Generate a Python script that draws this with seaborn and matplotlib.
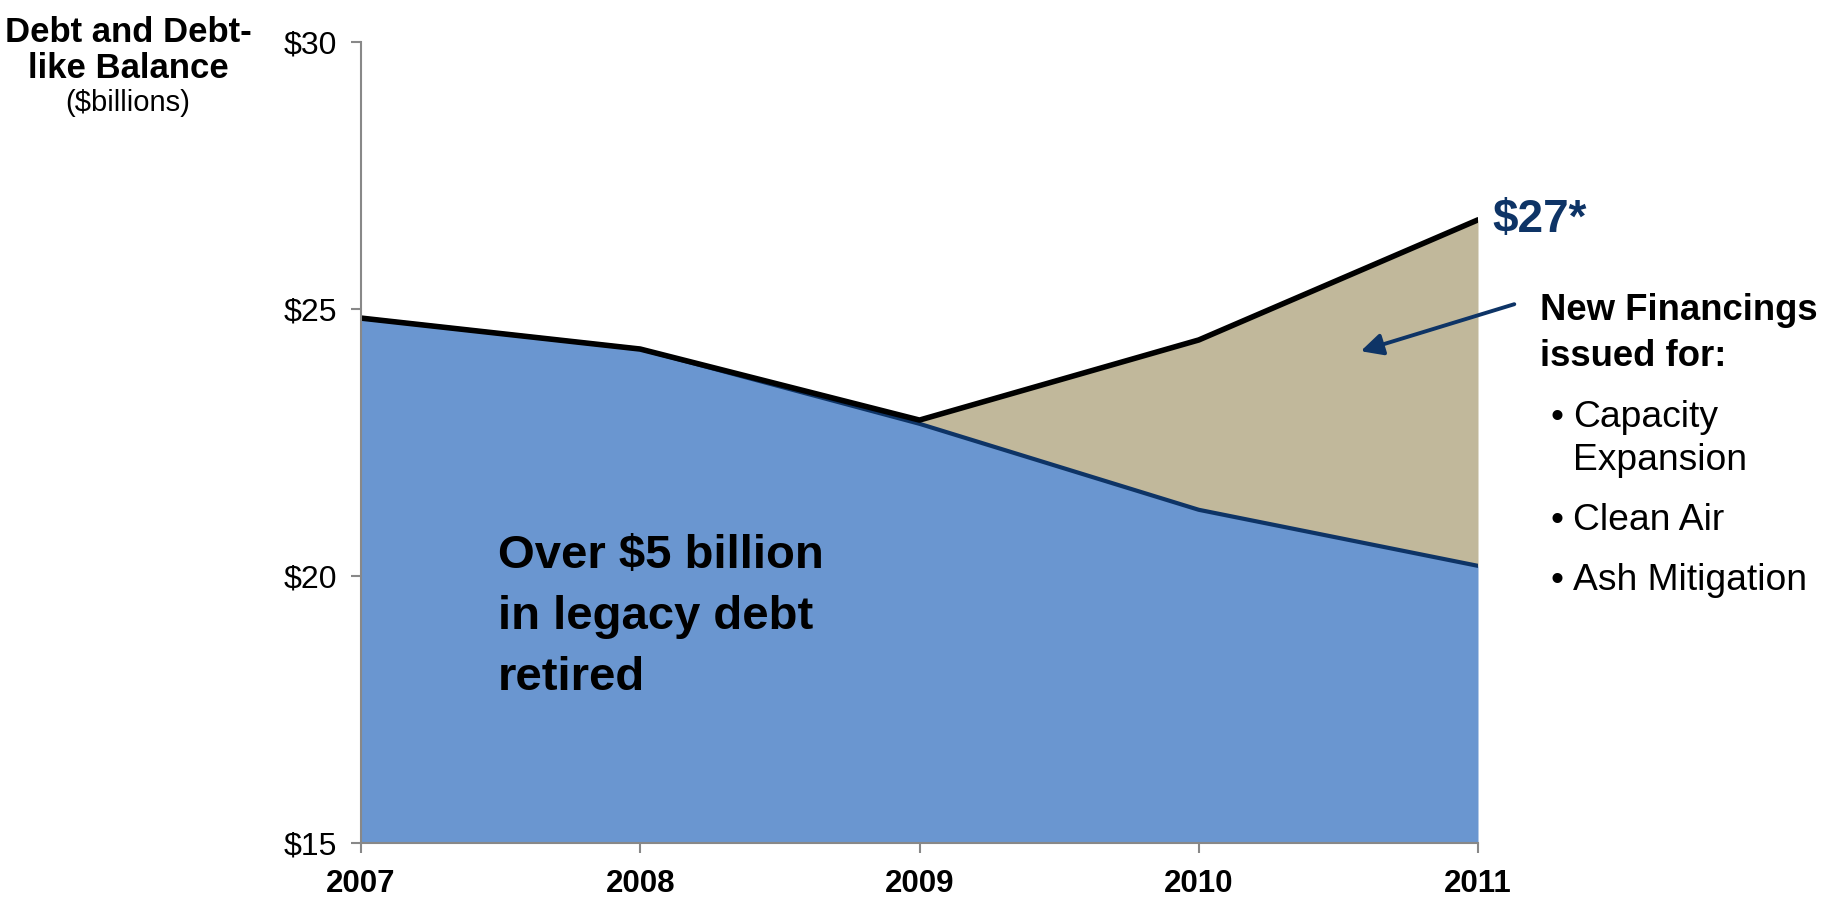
import matplotlib
matplotlib.use("Agg")
import matplotlib.pyplot as plt
import seaborn as sns
import pandas as pd

# Debt balances by year ($ billions)
years = [2007, 2008, 2009, 2010, 2011]
legacy_debt = [24.83, 24.25, 22.85, 21.24, 20.19]
total_debt = [24.83, 24.25, 22.92, 24.42, 26.67]
y_ticks = [15, 20, 25, 30]
y_tick_labels = ["$15", "$20", "$25", "$30"]
purposes = ["Capacity", "Expansion", "Clean Air", "Ash Mitigation"]

df = pd.DataFrame({"year": years, "legacy": legacy_debt, "total": total_debt})

sns.set_theme(style="white")
plt.rcParams["font.family"] = ["Liberation Sans", "DejaVu Sans"]
plt.rcParams["text.color"] = "black"

W, H, DPI = 1826, 897, 100
fig = plt.figure(figsize=(W / DPI, H / DPI), dpi=DPI)
ax = fig.add_axes([361 / W, 1 - 843 / H, (1478 - 361) / W, (843 - 42) / H])

BLUE = "#6A96D0"
TAN = "#C1B89B"
NAVY = "#0E3466"

# stacked areas: legacy debt and new financings on top
ax.fill_between(df["year"], 15, df["legacy"], color=BLUE, linewidth=0, zorder=1)
ax.fill_between(df["year"], df["legacy"], df["total"], color=TAN, linewidth=0, zorder=1)
sns.lineplot(data=df, x="year", y="legacy", color=NAVY, linewidth=3.0, ax=ax, zorder=3)
sns.lineplot(data=df, x="year", y="total", color="black", linewidth=4.0, ax=ax, zorder=4)

ax.set_xlim(2007, 2011)
ax.set_ylim(15, 30)
ax.set_xticks(years)
ax.set_xticklabels([str(y) for y in years], fontsize=22.5, fontweight="bold", color="black")
ax.set_yticks(y_ticks)
ax.set_yticklabels(y_tick_labels, fontsize=23, color="black")
ax.set_xlabel("")
ax.set_ylabel("")
for s in ["top", "right"]:
    ax.spines[s].set_visible(False)
for s in ["left", "bottom"]:
    ax.spines[s].set_color("#888888")
    ax.spines[s].set_linewidth(1.5)
    ax.spines[s].set_zorder(5)
ax.tick_params(axis="both", which="major", direction="out", length=7, width=1.5,
               color="#888888", bottom=True, left=True)
ax.tick_params(axis="y", pad=10)
ax.tick_params(axis="x", pad=12)
ax.set_facecolor("white")


def fx(x):
    return x / W


def fy(y):
    return 1 - y / H


# y-axis title (baseline of the last line is anchored)
fig.text(fx(128), fy(78), "Debt and Debt-\nlike Balance", ha="center", va="baseline",
         multialignment="center", linespacing=1.1, fontsize=25, fontweight="bold")
fig.text(fx(128), fy(111), "($billions)", ha="center", va="baseline", fontsize=21)

# in-chart annotation
fig.text(fx(498), fy(690), "Over $5 billion\nin legacy debt\nretired", ha="left",
         va="baseline", linespacing=1.5, fontsize=34, fontweight="bold", color="black")

# end value label
ax.text(2011.05, total_debt[-1], "$27*", ha="left", va="center",
        fontsize=33, fontweight="bold", color=NAVY, clip_on=False)

# new financings callout
fig.text(fx(1540), fy(366), "New Financings\nissued for:", ha="left", va="baseline",
         linespacing=1.4, fontsize=26.3, fontweight="bold")
bases = [427, 470, 530, 590]
for item, base in zip(purposes, bases):
    if item != "Expansion":
        fig.text(fx(1550), fy(base), "\u2022", ha="left", va="baseline", fontsize=26.5)
    fig.text(fx(1573), fy(base), item, ha="left", va="baseline", fontsize=26.8)

ax.annotate("", xy=(2010.58, 24.21), xytext=(2011.13, 25.09),
            arrowprops=dict(arrowstyle="-|>,head_length=1.1,head_width=0.55",
                            color=NAVY, lw=2.8, shrinkA=0, shrinkB=0),
            annotation_clip=False, zorder=6)

fig.savefig("out.png", dpi=DPI, facecolor="white")
